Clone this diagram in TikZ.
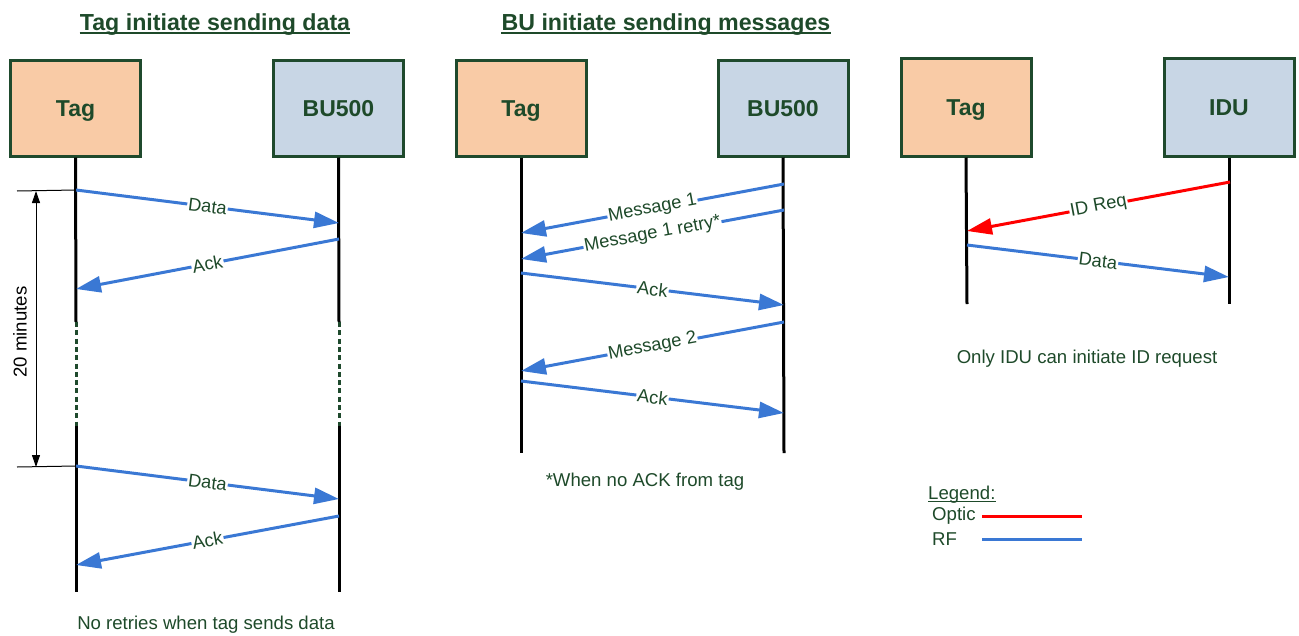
\documentclass[tikz,border=0pt]{standalone}
\usepackage{fontspec}
\setmainfont{Liberation Sans}
\usetikzlibrary{arrows.meta}
\definecolor{txt}{HTML}{1E4A2A}
\definecolor{bord}{HTML}{1F4A2D}
\definecolor{orangef}{HTML}{F9CBA6}
\definecolor{bluef}{HTML}{C8D6E5}
\definecolor{rfblue}{HTML}{3A78D4}
\begin{document}
\begin{tikzpicture}[x=1pt,y=-1pt,
  box/.style={draw=bord, line width=3pt, minimum width=130pt, minimum height=96pt, inner sep=0pt,
    text height=16.5pt, text depth=0pt,
    font=\fontsize{23}{26}\selectfont\bfseries, text=txt},
  tagbox/.style={box, fill=orangef},
  bubox/.style={box, fill=bluef},
  life/.style={line width=3pt, black},
  dotlife/.style={line width=3pt, bord, dash pattern=on 5pt off 3.3pt},
  rf/.style={draw=rfblue, line width=3pt, -{Triangle[length=25pt,width=16pt]}},
  optic/.style={draw=red, line width=3pt, -{Triangle[length=25pt,width=16pt]}},
  lbl/.style={sloped, fill=white, inner sep=1pt, font=\fontsize{18.3}{21}\selectfont, text=txt},
  ttl/.style={inner sep=0pt, font=\fontsize{23.2}{26}\selectfont\bfseries, text=txt},
  note/.style={inner sep=0pt, font=\fontsize{18.6}{21}\selectfont, text=txt},
  uline/.style={draw=txt, line width=1.6pt}
]
\path[use as bounding box] (0,0) rectangle (1299,635);

% ---------- titles ----------
\node[ttl, anchor=base] (t1) at (215,30) {Tag initiate sending data};
\draw[uline] ([yshift=-3pt]t1.base west) -- ([yshift=-3pt]t1.base east);
\node[ttl, anchor=base] (t2) at (666,30) {BU initiate sending messages};
\draw[uline] ([yshift=-3pt]t2.base west) -- ([yshift=-3pt]t2.base east);

% ---------- column 1 ----------
\node[tagbox] (tag1) at (75.5,108) {Tag};
\node[bubox] (bu1) at (338.5,108) {BU500};
\coordinate (l1a) at (76,322);
\coordinate (l1b) at (76,426);
\coordinate (l1e) at (76,592);
\coordinate (r1a) at (339,322);
\coordinate (r1b) at (339,426);
\coordinate (r1e) at (339,592);
\draw[life] (tag1.south) -- (l1a);
\draw[dotlife] (l1a) -- (l1b);
\draw[life] (l1b) -- (l1e);
\draw[life] (bu1.south) -- (r1a);
\draw[dotlife] (r1a) -- (r1b);
\draw[life] (r1b) -- (r1e);

\coordinate (c1s1) at (76,190);
\coordinate (c1e1) at (339,223);
\coordinate (c1s2) at (339,239);
\coordinate (c1e2) at (76,289);
\coordinate (c1s3) at (76,466);
\coordinate (c1e3) at (339,499);
\coordinate (c1s4) at (339,516);
\coordinate (c1e4) at (76,565);
\draw[rf] (c1s1) -- node[lbl] {Data} (c1e1);
\draw[rf] (c1s2) -- node[lbl] {Ack} (c1e2);
\draw[rf] (c1s3) -- node[lbl] {Data} (c1e3);
\draw[rf] (c1s4) -- node[lbl] {Ack} (c1e4);

% timing
\coordinate (tk1) at (17,191);
\coordinate (tk2) at (17,467);
\coordinate (tm1) at (36,191);
\coordinate (tm2) at (36,467);
\draw[line width=1pt] (tk1) -- (c1s1);
\draw[line width=1pt] (tk2) -- (c1s3);
\draw[line width=1pt, {Triangle[length=12pt,width=8pt]}-{Triangle[length=12pt,width=8pt]}] (tm1) -- (tm2);
\node[note, rotate=90, text=black] (min) at (20,332) {20 minutes};

\node[note] (n1) at (206,625) {No retries when tag sends data};

% ---------- column 2 ----------
\node[tagbox] (tag2) at (521,108) {Tag};
\node[bubox] (bu2) at (783,108) {BU500};
\coordinate (l2e) at (521,453);
\coordinate (r2e) at (784,453);
\draw[life] (tag2.south) -- (l2e);
\draw[life] (bu2.south) -- (r2e);

\coordinate (c2s1) at (784,184);
\coordinate (c2e1) at (521,233);
\coordinate (c2s2) at (784,210);
\coordinate (c2e2) at (521,259);
\coordinate (c2s3) at (521,273);
\coordinate (c2e3) at (784,305);
\coordinate (c2s4) at (784,322);
\coordinate (c2e4) at (521,371);
\coordinate (c2s5) at (521,381);
\coordinate (c2e5) at (784,413);
\draw[rf] (c2s1) -- node[lbl] {Message 1} (c2e1);
\draw[rf] (c2s2) -- node[lbl] {Message 1 retry*} (c2e2);
\draw[rf] (c2s3) -- node[lbl] {Ack} (c2e3);
\draw[rf] (c2s4) -- node[lbl] {Message 2} (c2e4);
\draw[rf] (c2s5) -- node[lbl] {Ack} (c2e5);

\node[note] (n2) at (645,482) {*When no ACK from tag};

% ---------- column 3 ----------
\node[tagbox, minimum height=98pt] (tag3) at (966,107) {Tag};
\node[bubox, minimum height=98pt] (idu) at (1229,107) {IDU};
\coordinate (l3e) at (967,304);
\coordinate (r3e) at (1229,304);
\draw[life] (tag3.south) -- (l3e);
\draw[life] (idu.south) -- (r3e);

\coordinate (c3s1) at (1230,182);
\coordinate (c3e1) at (967,231);
\coordinate (c3s2) at (967,245);
\coordinate (c3e2) at (1229,277);
\draw[optic] (c3s1) -- node[lbl] {ID Req} (c3e1);
\draw[rf] (c3s2) -- node[lbl] {Data} (c3e2);

\node[note] (n3) at (1087,359) {Only IDU can initiate ID request};

% ---------- legend ----------
\node[note, anchor=base west] (leg) at (928,499) {Legend:};
\draw[draw=txt, line width=1pt] ([yshift=-2.5pt]leg.base west) -- ([yshift=-2.5pt]leg.base east);
\node[note, anchor=west] (lopt) at (932,516) {Optic};
\node[note, anchor=west] (lrf) at (932,539) {RF};
\coordinate (lo1) at (982,516);
\coordinate (lo2) at (1082,516);
\coordinate (lr1) at (982,539);
\coordinate (lr2) at (1082,539);
\draw[red, line width=3pt] (lo1) -- (lo2);
\draw[rfblue, line width=3pt] (lr1) -- (lr2);
\end{tikzpicture}
\end{document}
